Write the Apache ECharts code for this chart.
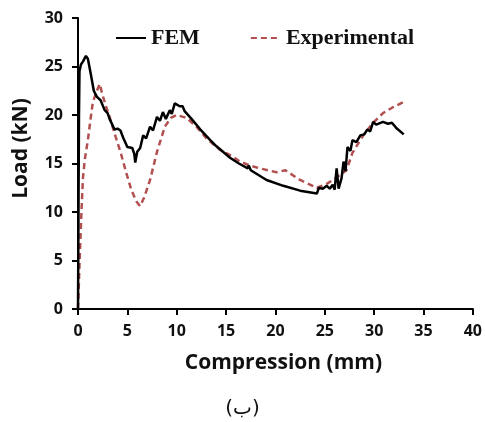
<!DOCTYPE html>
<html>
<head>
<meta charset="utf-8">
<script src="https://cdn.jsdelivr.net/npm/echarts@6/dist/echarts.min.js"></script>
<style>html,body{margin:0;padding:0;background:#fff}#c{width:485px;height:422px}</style>
</head>
<body>
<div id="c"></div>
<script>
var xTicks = [0, 40, 5];
var yTicks = [0, 30, 5];
var femData = [[0,0],[0.05,10],[0.1,20],[0.15,24.5],[0.3,25.2],[0.5,25.5],[0.8,26.1],[1.0,25.8],[1.3,24.2],[1.6,22.5],[1.9,21.9],[2.3,21.5],[2.7,20.5],[3.0,20.2],[3.2,19.6],[3.4,19.8],[3.7,18.5],[4.0,18.6],[4.3,18.4],[4.6,17.6],[5.0,16.7],[5.5,16.6],[5.7,16.0],[5.8,15.1],[6.0,16.2],[6.3,16.6],[6.6,17.9],[6.9,17.6],[7.3,18.8],[7.6,18.4],[8.0,19.8],[8.3,19.4],[8.6,20.3],[8.9,19.6],[9.3,20.5],[9.5,20.1],[9.8,21.2],[10.0,21.4],[10.3,20.9],[10.6,20.9],[10.8,20.4],[11.5,19.6],[12.4,18.5],[13.4,17.4],[14.0,16.8],[15.4,15.6],[16.3,15.0],[17.2,14.5],[17.3,14.8],[17.5,14.3],[19.1,13.3],[20.8,12.7],[22.5,12.2],[24.2,11.9],[24.4,12.5],[24.8,12.4],[25.2,12.7],[25.5,12.4],[25.8,12.8],[26.0,12.3],[26.2,14.5],[26.4,12.4],[26.7,13.5],[26.9,15.2],[27.1,14.2],[27.3,16.7],[27.6,16.3],[27.8,17.4],[28.2,17.2],[28.6,17.9],[29.0,18.0],[29.3,18.5],[29.6,18.3],[29.9,19.3],[30.2,19.0],[30.4,19.1],[30.9,19.3],[31.4,19.1],[31.8,19.2],[32.3,18.6],[33.0,18.0]];
var expData = [[0,0],[0.1,3],[0.2,6],[0.35,10],[0.5,13.5],[0.7,15.5],[1.0,17.4],[1.3,19.8],[1.5,21.3],[1.8,22.2],[2.2,23.2],[2.5,22.0],[2.8,21.0],[3.2,19.8],[3.8,17.8],[4.3,16.2],[4.9,14.0],[5.4,12.3],[5.9,11.1],[6.3,10.6],[6.7,11.5],[7.3,13.3],[8.0,16.2],[8.8,18.8],[9.4,19.7],[10.0,20.0],[11.0,19.7],[12.0,18.8],[13.0,17.6],[14.4,16.4],[15.7,15.7],[16.4,15.2],[17.4,14.8],[18.4,14.5],[20.1,14.1],[21.0,14.3],[22.5,13.3],[24.2,12.5],[25.2,12.9],[25.8,13.3],[27.2,14.3],[27.8,16.1],[28.9,17.9],[29.9,19.2],[30.9,20.2],[31.9,20.8],[32.9,21.3],[33.1,21.4]];
var seriesNames = ['FEM', 'Experimental'];

var chart = echarts.init(document.getElementById('c'));
var axisFont = {fontFamily: 'Open Sans', fontWeight: 'bold', fontSize: 16, color: '#111'};
chart.setOption({
  animation: false,
  title: {
    text: '(ب)', left: 'center', top: 394,
    textStyle: {fontFamily: 'DejaVu Sans', fontWeight: 'normal', fontSize: 20, color: '#111'}
  },
  legend: {
    top: 22, left: 110, itemGap: 50, itemWidth: 30, itemHeight: 14,
    itemStyle: {opacity: 0},
    textStyle: {fontFamily: 'Liberation Serif', fontWeight: 'bold', fontSize: 22, color: '#111'},
    data: seriesNames
  },
  grid: {left: 78, right: 12, top: 18, bottom: 113, containLabel: false},
  xAxis: {
    type: 'value', min: xTicks[0], max: xTicks[1], interval: xTicks[2],
    name: 'Compression (mm)', nameLocation: 'middle', nameGap: 44,
    nameTextStyle: {fontFamily: 'Open Sans', fontWeight: 'bold', fontSize: 21, color: '#111', padding: [0, 0, 0, 16]},
    axisLine: {lineStyle: {color: '#000', width: 2}},
    axisTick: {show: true, length: 6, lineStyle: {color: '#000', width: 2}},
    axisLabel: Object.assign({margin: 14}, axisFont),
    splitLine: {show: false}
  },
  yAxis: {
    type: 'value', min: yTicks[0], max: yTicks[1], interval: yTicks[2],
    name: 'Load (kN)', nameLocation: 'middle', nameGap: 46,
    nameTextStyle: {fontFamily: 'Open Sans', fontWeight: 'bold', fontSize: 21, color: '#111', padding: [0, 0, 0, 30]},
    axisLine: {show: true, lineStyle: {color: '#000', width: 2}},
    axisTick: {show: true, length: 6, lineStyle: {color: '#000', width: 2}},
    axisLabel: Object.assign({margin: 15}, axisFont),
    splitLine: {show: false}
  },
  series: [
    {name: seriesNames[0], type: 'line', data: femData, symbol: 'none', z: 3,
     itemStyle: {color: '#000'}, lineStyle: {color: '#000', width: 2.5}},
    {name: seriesNames[1], type: 'line', data: expData, symbol: 'none', z: 2,
     itemStyle: {color: '#b24f4f'}, lineStyle: {color: '#b24f4f', width: 2.5, type: [6, 4]}}
  ]
});
</script>
</body>
</html>
